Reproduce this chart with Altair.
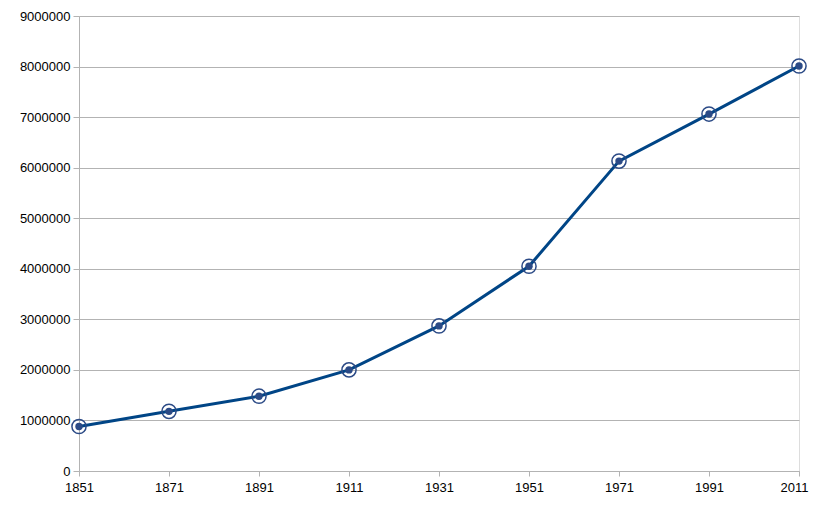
import altair as alt
import pandas as pd

years = [1851, 1871, 1891, 1911, 1931, 1951, 1971, 1991, 2011]
population = [880000, 1180000, 1480000, 2000000, 2870000, 4050000, 6130000, 7060000, 8010000]
x_ticks = [1851, 1871, 1891, 1911, 1931, 1951, 1971, 1991, 2011]
y_ticks = [0, 1000000, 2000000, 3000000, 4000000, 5000000, 6000000, 7000000, 8000000, 9000000]

df = pd.DataFrame({"year": years, "pop": population})

color = "#004586"
x = alt.X("year:Q", scale=alt.Scale(domain=[1851, 2011], nice=False, zero=False),
          axis=alt.Axis(values=x_ticks, format="d", title=None, grid=False,
                        domainColor="#b3b3b3", tickColor="#b3b3b3", tickSize=5,
                        labelFont="Liberation Sans", labelFontSize=13, labelColor="#000000",
                        labelPadding=5, labelFlush=False,
                        labelOffset={"condition": {"test": "datum.value == 2011", "value": -5}, "value": 0}))
y = alt.Y("pop:Q", scale=alt.Scale(domain=[0, 9000000], nice=False),
          axis=alt.Axis(values=y_ticks, format="d", title=None, grid=True, gridColor="#b3b3b3",
                        domainColor="#b3b3b3", tickColor="#b3b3b3", tickSize=6,
                        labelFont="Liberation Sans", labelFontSize=13, labelColor="#000000",
                        labelPadding=3))

base = alt.Chart(df)
line = base.mark_line(color=color, strokeWidth=3).encode(x=x, y=y)
ring = base.mark_point(shape="circle", filled=False, color="#2b4a86", size=200, strokeWidth=1.5, opacity=1).encode(x=x, y=y)
dot = base.mark_point(shape="circle", filled=True, color="#2b4a86", size=55, opacity=1).encode(x=x, y=y)

chart = alt.layer(line, ring, dot).properties(
    width=720, height=455,
    autosize=alt.AutoSizeParams(type="none"),
    padding={"left": 71, "top": 8, "right": 11, "bottom": 22},
).configure_view(stroke="#b3b3b3").configure(background="white")

chart.save("out.html", embed_options={"renderer": "svg", "actions": False})
